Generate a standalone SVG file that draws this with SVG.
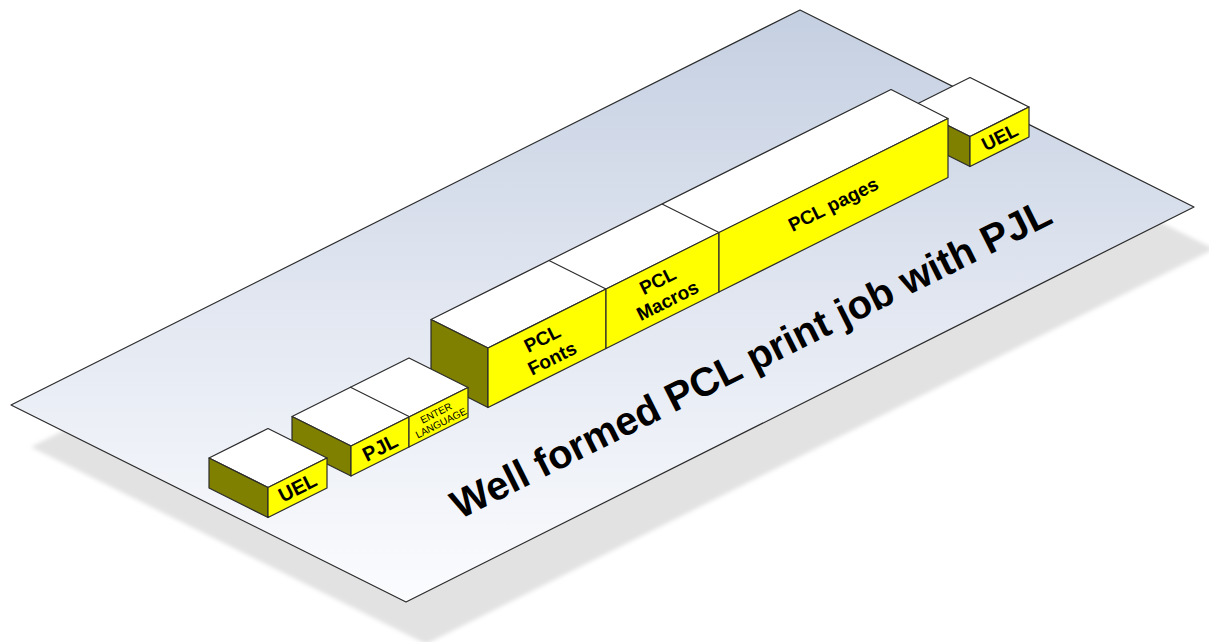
<svg xmlns="http://www.w3.org/2000/svg" width="1209" height="642" viewBox="0 0 1209 642">
  <defs>
    <linearGradient id="planeFill" gradientUnits="userSpaceOnUse" x1="0" y1="10" x2="0" y2="602">
      <stop offset="0" stop-color="#c4cfe1"/>
      <stop offset="0.5" stop-color="#e2e7f1"/>
      <stop offset="1" stop-color="#fbfcfe"/>
    </linearGradient>
    <filter id="soft" x="-5%" y="-5%" width="110%" height="110%">
      <feGaussianBlur stdDeviation="2"/>
    </filter>
    <style>
      .edge { stroke: #2b2b2b; stroke-width: 1.2; stroke-linejoin: round; }
      .top { fill: #ffffff; }
      .front { fill: #ffff00; }
      .side { fill: #808000; }
      .label { font-family: "Liberation Sans", Arial, sans-serif; font-weight: bold; fill: #000000; text-anchor: middle; }
      .tiny { font-family: "Liberation Sans", Arial, sans-serif; font-weight: normal; fill: #000000; text-anchor: middle; font-size: 10px; }
      .title { font-family: "Liberation Sans", Arial, sans-serif; font-weight: bold; fill: #000000; text-anchor: middle; font-size: 40px; }
    </style>
  </defs>

  <!-- base plane with its drop shadow -->
  <g id="plane">
    <polygon points="820,52 1214,249 426,644 31,447" fill="#e2e2e2" filter="url(#soft)"/>
    <polygon points="800,10 1194,207 406,602 11,405" fill="url(#planeFill)" class="edge"/>
    <text class="title" transform="translate(757,371) rotate(-26.565)">Well formed PCL print job with PJL</text>
  </g>

  <!-- blocks are painted back to front -->

  <!-- closing UEL block -->
  <g id="uel-end">
    <polygon class="top edge" points="911,107 970,77.5 1029,107 970,136.5"/>
    <polygon class="side edge" points="911,107 970,136.5 970,166.5 911,137"/>
    <polygon class="front edge" points="970,136.5 1029,107 1029,137 970,166.5"/>
    <text class="label" font-size="19" transform="translate(999.5,136.75) rotate(-26.565)" y="7">UEL</text>
  </g>

  <!-- PCL block: fonts, macros, pages -->
  <g id="pcl">
    <polygon class="top edge" points="431,319.5 891,89.5 948,118.5 488,348"/>
    <line class="edge" x1="549" y1="260.5" x2="606" y2="289"/>
    <line class="edge" x1="662" y1="204" x2="719" y2="232.5"/>
    <polygon class="side edge" points="431,319.5 488,348 488,407.5 431,378.5"/>
  </g>
  <g id="pcl-fonts">
    <polygon class="front edge" points="488,348 606,289 606,348.5 488,407.5"/>
    <text class="label" font-size="19" transform="translate(547,348) rotate(-26.565)"><tspan x="0" y="-4">PCL</tspan><tspan x="0" y="18">Fonts</tspan></text>
  </g>
  <g id="pcl-macros">
    <polygon class="front edge" points="606,289 719,232.5 719,292 606,348.5"/>
    <text class="label" font-size="19" transform="translate(662.5,290.25) rotate(-26.565)"><tspan x="0" y="-4">PCL</tspan><tspan x="0" y="18">Macros</tspan></text>
  </g>
  <g id="pcl-pages">
    <polygon class="front edge" points="719,232.5 948,118.5 948,177.5 719,292"/>
    <text class="label" font-size="19" transform="translate(833.5,204.75) rotate(-26.565)" y="6">PCL pages</text>
  </g>

  <!-- PJL + ENTER LANGUAGE block -->
  <g id="pjl">
    <polygon class="top edge" points="292,416.5 409,358 468,387.5 351,446"/>
    <line class="edge" x1="350" y1="387" x2="409" y2="416.5"/>
    <polygon class="side edge" points="292,416.5 351,446 351,476 292,446.5"/>
    <polygon class="front edge" points="351,446 409,417 409,447 351,476"/>
    <text class="label" font-size="20" transform="translate(380,447.5) rotate(-26.565)" y="7">PJL</text>
  </g>
  <g id="enter-language">
    <polygon class="front edge" points="409,417 468,387.5 468,417.5 409,447"/>
    <text class="tiny" transform="translate(438.5,418) rotate(-26.565)"><tspan x="0" y="-2">ENTER</tspan><tspan x="0" y="9">LANGUAGE</tspan></text>
  </g>

  <!-- first UEL block -->
  <g id="uel-start">
    <polygon class="top edge" points="209,458 268,428.5 327,458 268,487.5"/>
    <polygon class="side edge" points="209,458 268,487.5 268,517.5 209,488"/>
    <polygon class="front edge" points="268,487.5 327,458 327,488 268,517.5"/>
    <text class="label" font-size="20" transform="translate(297.5,487.5) rotate(-26.565)" y="7">UEL</text>
  </g>
</svg>
